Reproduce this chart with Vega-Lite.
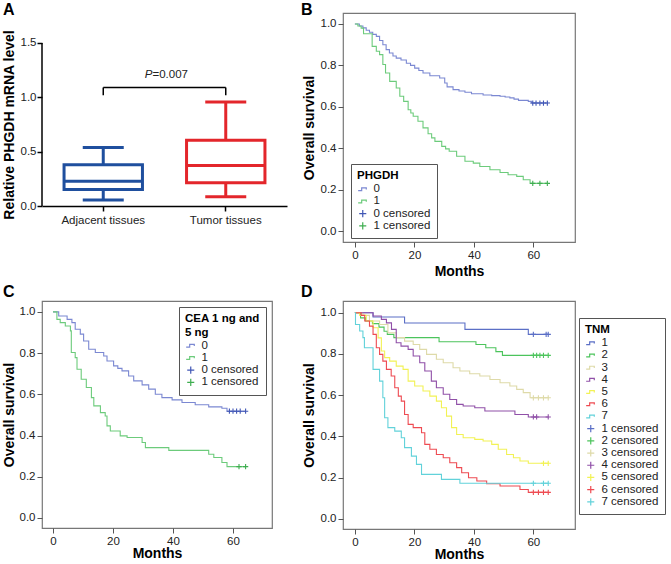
{
  "$schema": "https://vega.github.io/schema/vega-lite/v6.json",
  "padding": {"left": 1, "top": 0, "right": 0, "bottom": 0},
  "config": {
    "font": "Liberation Sans",
    "view": {"stroke": "#777", "strokeWidth": 1.2},
    "axis": {"labelFontSize": 11.5, "labelColor": "#222", "titleFontSize": 14, "titleFontWeight": "bold", "titleColor": "#000", "tickColor": "#555", "tickSize": 5, "labelPadding": 2, "titlePadding": 4, "domain": false, "grid": false},
    "legend": {"labelFontSize": 11.5, "titleFontSize": 11.5, "titleFontWeight": "bold", "strokeColor": "#555", "padding": 6, "fillColor": "white", "rowPadding": -0.8, "symbolStrokeWidth": 1.2, "symbolSize": 50, "titlePadding": 2, "labelColor": "#222", "titleColor": "#000", "symbolFillColor": "transparent", "labelOffset": 5},
    "title": {"fontSize": 16, "fontWeight": "bold", "anchor": "start", "color": "#000", "frame": "group"}
  },
  "datasets": {
    "boxes": [
      {"tissue": "Adjacent tissues", "min": 0.055, "q1": 0.151, "median": 0.228, "q3": 0.379, "max": 0.539},
      {"tissue": "Tumor tissues", "min": 0.086, "q1": 0.213, "median": 0.373, "q3": 0.604, "max": 0.958}
    ],
    "bracket": [{"from": "Adjacent tissues", "to": "Tumor tissues", "level": 1.09}],
    "legs": [
      {"tissue": "Adjacent tissues", "lo": 1.02, "hi": 1.09},
      {"tissue": "Tumor tissues", "lo": 1.02, "hi": 1.09}
    ],
    "bCurve": [
      {"label": "0", "month": 0, "surv": 1}, {"label": "0", "month": 1.5, "surv": 0.99}, {"label": "0", "month": 2.7, "surv": 0.981}, {"label": "0", "month": 3.8, "surv": 0.97}, {"label": "0", "month": 4.9, "surv": 0.96}, {"label": "0", "month": 6, "surv": 0.95}, {"label": "0", "month": 7.2, "surv": 0.94}, {"label": "0", "month": 8.3, "surv": 0.92}, {"label": "0", "month": 9.4, "surv": 0.9}, {"label": "0", "month": 10.5, "surv": 0.876}, {"label": "0", "month": 11.6, "surv": 0.86}, {"label": "0", "month": 12.8, "surv": 0.845}, {"label": "0", "month": 13.9, "surv": 0.835}, {"label": "0", "month": 15.5, "surv": 0.826}, {"label": "0", "month": 17.3, "surv": 0.81}, {"label": "0", "month": 18.7, "surv": 0.8}, {"label": "0", "month": 20.1, "surv": 0.787}, {"label": "0", "month": 21.5, "surv": 0.775}, {"label": "0", "month": 22.9, "surv": 0.763}, {"label": "0", "month": 25.2, "surv": 0.75}, {"label": "0", "month": 28.5, "surv": 0.739}, {"label": "0", "month": 30.2, "surv": 0.715}, {"label": "0", "month": 31, "surv": 0.696}, {"label": "0", "month": 33, "surv": 0.683}, {"label": "0", "month": 35, "surv": 0.676}, {"label": "0", "month": 37, "surv": 0.67}, {"label": "0", "month": 39.2, "surv": 0.663}, {"label": "0", "month": 43.1, "surv": 0.657}, {"label": "0", "month": 46, "surv": 0.654}, {"label": "0", "month": 48.8, "surv": 0.651}, {"label": "0", "month": 50.5, "surv": 0.647}, {"label": "0", "month": 52.1, "surv": 0.643}, {"label": "0", "month": 53.5, "surv": 0.637}, {"label": "0", "month": 55, "surv": 0.631}, {"label": "0", "month": 58.3, "surv": 0.626}, {"label": "0", "month": 59.4, "surv": 0.618}, {"label": "0", "month": 64.7, "surv": 0.618},
      {"label": "1", "month": 0, "surv": 1}, {"label": "1", "month": 1, "surv": 0.99}, {"label": "1", "month": 2.1, "surv": 0.98}, {"label": "1", "month": 2.9, "surv": 0.953}, {"label": "1", "month": 5.8, "surv": 0.892}, {"label": "1", "month": 7.2, "surv": 0.868}, {"label": "1", "month": 8.3, "surv": 0.852}, {"label": "1", "month": 9.4, "surv": 0.804}, {"label": "1", "month": 10.3, "surv": 0.763}, {"label": "1", "month": 11.7, "surv": 0.723}, {"label": "1", "month": 13.9, "surv": 0.691}, {"label": "1", "month": 15.1, "surv": 0.651}, {"label": "1", "month": 16.4, "surv": 0.626}, {"label": "1", "month": 17.9, "surv": 0.586}, {"label": "1", "month": 18.8, "surv": 0.57}, {"label": "1", "month": 19.6, "surv": 0.554}, {"label": "1", "month": 21.2, "surv": 0.53}, {"label": "1", "month": 22.9, "surv": 0.498}, {"label": "1", "month": 24.6, "surv": 0.47}, {"label": "1", "month": 25.8, "surv": 0.45}, {"label": "1", "month": 26.9, "surv": 0.433}, {"label": "1", "month": 29.2, "surv": 0.409}, {"label": "1", "month": 30.5, "surv": 0.397}, {"label": "1", "month": 31.7, "surv": 0.385}, {"label": "1", "month": 34.2, "surv": 0.361}, {"label": "1", "month": 37, "surv": 0.337}, {"label": "1", "month": 39.8, "surv": 0.328}, {"label": "1", "month": 42, "surv": 0.312}, {"label": "1", "month": 45.4, "surv": 0.296}, {"label": "1", "month": 48.8, "surv": 0.283}, {"label": "1", "month": 51.5, "surv": 0.272}, {"label": "1", "month": 54.4, "surv": 0.264}, {"label": "1", "month": 56.6, "surv": 0.248}, {"label": "1", "month": 58.9, "surv": 0.23}, {"label": "1", "month": 64.7, "surv": 0.23}
    ],
    "bCens": [
      {"label": "0 censored", "month": 59.8, "surv": 0.618}, {"label": "0 censored", "month": 60.9, "surv": 0.618}, {"label": "0 censored", "month": 62.2, "surv": 0.618}, {"label": "0 censored", "month": 63.4, "surv": 0.618}, {"label": "0 censored", "month": 64.7, "surv": 0.618},
      {"label": "1 censored", "month": 59.8, "surv": 0.23}, {"label": "1 censored", "month": 62.2, "surv": 0.23}, {"label": "1 censored", "month": 64.7, "surv": 0.23}
    ],
    "cCurve": [
      {"label": "0", "month": 0, "surv": 1}, {"label": "0", "month": 1.9, "surv": 0.98}, {"label": "0", "month": 4.7, "surv": 0.964}, {"label": "0", "month": 6.3, "surv": 0.948}, {"label": "0", "month": 7.4, "surv": 0.916}, {"label": "0", "month": 9.1, "surv": 0.892}, {"label": "0", "month": 10.2, "surv": 0.859}, {"label": "0", "month": 11.9, "surv": 0.819}, {"label": "0", "month": 14.1, "surv": 0.803}, {"label": "0", "month": 16.9, "surv": 0.786}, {"label": "0", "month": 18, "surv": 0.762}, {"label": "0", "month": 20.2, "surv": 0.738}, {"label": "0", "month": 21.6, "surv": 0.726}, {"label": "0", "month": 23, "surv": 0.714}, {"label": "0", "month": 25.2, "surv": 0.689}, {"label": "0", "month": 26.9, "surv": 0.665}, {"label": "0", "month": 29.7, "surv": 0.646}, {"label": "0", "month": 31.9, "surv": 0.625}, {"label": "0", "month": 34.1, "surv": 0.6}, {"label": "0", "month": 36.3, "surv": 0.584}, {"label": "0", "month": 39.7, "surv": 0.573}, {"label": "0", "month": 43, "surv": 0.56}, {"label": "0", "month": 47.4, "surv": 0.549}, {"label": "0", "month": 51.9, "surv": 0.539}, {"label": "0", "month": 56.3, "surv": 0.532}, {"label": "0", "month": 58, "surv": 0.518}, {"label": "0", "month": 64.2, "surv": 0.518},
      {"label": "1", "month": 0, "surv": 1}, {"label": "1", "month": 1.3, "surv": 0.964}, {"label": "1", "month": 2.4, "surv": 0.948}, {"label": "1", "month": 4.1, "surv": 0.932}, {"label": "1", "month": 5.8, "surv": 0.908}, {"label": "1", "month": 6.1, "surv": 0.803}, {"label": "1", "month": 7.4, "surv": 0.778}, {"label": "1", "month": 8, "surv": 0.722}, {"label": "1", "month": 9.4, "surv": 0.673}, {"label": "1", "month": 11.1, "surv": 0.633}, {"label": "1", "month": 12.8, "surv": 0.584}, {"label": "1", "month": 13.6, "surv": 0.544}, {"label": "1", "month": 15.8, "surv": 0.511}, {"label": "1", "month": 17.4, "surv": 0.495}, {"label": "1", "month": 18, "surv": 0.447}, {"label": "1", "month": 19.1, "surv": 0.422}, {"label": "1", "month": 22.4, "surv": 0.398}, {"label": "1", "month": 24.7, "surv": 0.39}, {"label": "1", "month": 29.7, "surv": 0.366}, {"label": "1", "month": 30.8, "surv": 0.341}, {"label": "1", "month": 38.6, "surv": 0.328}, {"label": "1", "month": 51.9, "surv": 0.309}, {"label": "1", "month": 53.6, "surv": 0.293}, {"label": "1", "month": 56.3, "surv": 0.269}, {"label": "1", "month": 58, "surv": 0.249}, {"label": "1", "month": 64.2, "surv": 0.249}
    ],
    "cCens": [
      {"label": "0 censored", "month": 58.8, "surv": 0.518}, {"label": "0 censored", "month": 60, "surv": 0.518}, {"label": "0 censored", "month": 61.2, "surv": 0.518}, {"label": "0 censored", "month": 62.4, "surv": 0.518}, {"label": "0 censored", "month": 64.2, "surv": 0.518},
      {"label": "1 censored", "month": 62, "surv": 0.249}, {"label": "1 censored", "month": 64.2, "surv": 0.249}
    ],
    "dCurve": [
      {"label": "1", "month": 0, "surv": 1}, {"label": "1", "month": 6.1, "surv": 0.979}, {"label": "1", "month": 16.7, "surv": 0.95}, {"label": "1", "month": 37, "surv": 0.919}, {"label": "1", "month": 58.3, "surv": 0.895}, {"label": "1", "month": 65, "surv": 0.895},
      {"label": "2", "month": 0, "surv": 1}, {"label": "2", "month": 1.9, "surv": 0.975}, {"label": "2", "month": 3.6, "surv": 0.96}, {"label": "2", "month": 5.9, "surv": 0.947}, {"label": "2", "month": 8.1, "surv": 0.93}, {"label": "2", "month": 9.8, "surv": 0.91}, {"label": "2", "month": 10.9, "surv": 0.895}, {"label": "2", "month": 13.1, "surv": 0.879}, {"label": "2", "month": 28.3, "surv": 0.859}, {"label": "2", "month": 40.7, "surv": 0.846}, {"label": "2", "month": 44, "surv": 0.83}, {"label": "2", "month": 47.4, "surv": 0.811}, {"label": "2", "month": 49.6, "surv": 0.793}, {"label": "2", "month": 65, "surv": 0.793},
      {"label": "3", "month": 0, "surv": 1}, {"label": "3", "month": 2.7, "surv": 0.987}, {"label": "3", "month": 4.9, "surv": 0.96}, {"label": "3", "month": 8.3, "surv": 0.943}, {"label": "3", "month": 11.1, "surv": 0.903}, {"label": "3", "month": 13.9, "surv": 0.879}, {"label": "3", "month": 16.7, "surv": 0.862}, {"label": "3", "month": 19.6, "surv": 0.846}, {"label": "3", "month": 21.8, "surv": 0.822}, {"label": "3", "month": 24.1, "surv": 0.798}, {"label": "3", "month": 27.4, "surv": 0.774}, {"label": "3", "month": 29.7, "surv": 0.757}, {"label": "3", "month": 33, "surv": 0.733}, {"label": "3", "month": 35.3, "surv": 0.717}, {"label": "3", "month": 38.6, "surv": 0.704}, {"label": "3", "month": 42, "surv": 0.693}, {"label": "3", "month": 45.4, "surv": 0.676}, {"label": "3", "month": 48.8, "surv": 0.66}, {"label": "3", "month": 52.1, "surv": 0.644}, {"label": "3", "month": 54.4, "surv": 0.628}, {"label": "3", "month": 56.6, "surv": 0.612}, {"label": "3", "month": 58.9, "surv": 0.587}, {"label": "3", "month": 65, "surv": 0.587},
      {"label": "4", "month": 0, "surv": 1}, {"label": "4", "month": 6.1, "surv": 0.984}, {"label": "4", "month": 8.9, "surv": 0.968}, {"label": "4", "month": 10.6, "surv": 0.951}, {"label": "4", "month": 12.3, "surv": 0.919}, {"label": "4", "month": 13.9, "surv": 0.854}, {"label": "4", "month": 15.5, "surv": 0.838}, {"label": "4", "month": 17.9, "surv": 0.822}, {"label": "4", "month": 19.6, "surv": 0.79}, {"label": "4", "month": 21.8, "surv": 0.757}, {"label": "4", "month": 23.5, "surv": 0.717}, {"label": "4", "month": 25.7, "surv": 0.668}, {"label": "4", "month": 27.4, "surv": 0.636}, {"label": "4", "month": 29.7, "surv": 0.604}, {"label": "4", "month": 31.9, "surv": 0.579}, {"label": "4", "month": 34.2, "surv": 0.555}, {"label": "4", "month": 36.4, "surv": 0.547}, {"label": "4", "month": 40.3, "surv": 0.539}, {"label": "4", "month": 43.7, "surv": 0.523}, {"label": "4", "month": 53.8, "surv": 0.506}, {"label": "4", "month": 58.3, "surv": 0.494}, {"label": "4", "month": 65, "surv": 0.494},
      {"label": "5", "month": 0, "surv": 1}, {"label": "5", "month": 1.6, "surv": 0.987}, {"label": "5", "month": 3.8, "surv": 0.96}, {"label": "5", "month": 6.1, "surv": 0.927}, {"label": "5", "month": 7.8, "surv": 0.878}, {"label": "5", "month": 8.9, "surv": 0.814}, {"label": "5", "month": 10, "surv": 0.782}, {"label": "5", "month": 11.7, "surv": 0.765}, {"label": "5", "month": 13.9, "surv": 0.741}, {"label": "5", "month": 16.2, "surv": 0.725}, {"label": "5", "month": 17.9, "surv": 0.668}, {"label": "5", "month": 20.1, "surv": 0.644}, {"label": "5", "month": 22.9, "surv": 0.62}, {"label": "5", "month": 25.2, "surv": 0.595}, {"label": "5", "month": 27.4, "surv": 0.571}, {"label": "5", "month": 29.1, "surv": 0.539}, {"label": "5", "month": 30.8, "surv": 0.498}, {"label": "5", "month": 32.5, "surv": 0.442}, {"label": "5", "month": 34.2, "surv": 0.409}, {"label": "5", "month": 36.4, "surv": 0.393}, {"label": "5", "month": 40.3, "surv": 0.385}, {"label": "5", "month": 43.1, "surv": 0.377}, {"label": "5", "month": 46, "surv": 0.361}, {"label": "5", "month": 48.2, "surv": 0.337}, {"label": "5", "month": 51, "surv": 0.312}, {"label": "5", "month": 53.3, "surv": 0.296}, {"label": "5", "month": 55.5, "surv": 0.28}, {"label": "5", "month": 58.3, "surv": 0.269}, {"label": "5", "month": 65, "surv": 0.269},
      {"label": "6", "month": 0, "surv": 1}, {"label": "6", "month": 2.1, "surv": 0.987}, {"label": "6", "month": 3.3, "surv": 0.96}, {"label": "6", "month": 4.9, "surv": 0.935}, {"label": "6", "month": 6.1, "surv": 0.895}, {"label": "6", "month": 7.2, "surv": 0.83}, {"label": "6", "month": 8.3, "surv": 0.798}, {"label": "6", "month": 9.4, "surv": 0.765}, {"label": "6", "month": 10.6, "surv": 0.725}, {"label": "6", "month": 12.2, "surv": 0.693}, {"label": "6", "month": 13.4, "surv": 0.636}, {"label": "6", "month": 14.6, "surv": 0.595}, {"label": "6", "month": 15.6, "surv": 0.571}, {"label": "6", "month": 16.7, "surv": 0.506}, {"label": "6", "month": 17.9, "surv": 0.458}, {"label": "6", "month": 19.6, "surv": 0.442}, {"label": "6", "month": 22.4, "surv": 0.417}, {"label": "6", "month": 23.5, "surv": 0.361}, {"label": "6", "month": 25.2, "surv": 0.337}, {"label": "6", "month": 27.4, "surv": 0.312}, {"label": "6", "month": 29.7, "surv": 0.296}, {"label": "6", "month": 31.9, "surv": 0.272}, {"label": "6", "month": 34.2, "surv": 0.248}, {"label": "6", "month": 35.9, "surv": 0.223}, {"label": "6", "month": 38.2, "surv": 0.199}, {"label": "6", "month": 41, "surv": 0.183}, {"label": "6", "month": 44.3, "surv": 0.17}, {"label": "6", "month": 48.8, "surv": 0.159}, {"label": "6", "month": 55.5, "surv": 0.142}, {"label": "6", "month": 58.3, "surv": 0.128}, {"label": "6", "month": 65, "surv": 0.128},
      {"label": "7", "month": 0, "surv": 1}, {"label": "7", "month": 0.2, "surv": 0.943}, {"label": "7", "month": 1.6, "surv": 0.911}, {"label": "7", "month": 2.7, "surv": 0.879}, {"label": "7", "month": 3.2, "surv": 0.83}, {"label": "7", "month": 6.1, "surv": 0.725}, {"label": "7", "month": 8.3, "surv": 0.668}, {"label": "7", "month": 9.4, "surv": 0.587}, {"label": "7", "month": 10, "surv": 0.49}, {"label": "7", "month": 11.1, "surv": 0.442}, {"label": "7", "month": 13.4, "surv": 0.425}, {"label": "7", "month": 15.6, "surv": 0.393}, {"label": "7", "month": 16.7, "surv": 0.345}, {"label": "7", "month": 19, "surv": 0.304}, {"label": "7", "month": 20.7, "surv": 0.264}, {"label": "7", "month": 22.4, "surv": 0.215}, {"label": "7", "month": 29.1, "surv": 0.191}, {"label": "7", "month": 35.3, "surv": 0.172}, {"label": "7", "month": 65, "surv": 0.172}
    ],
    "dCens": [
      {"label": "1 censored", "month": 60, "surv": 0.895}, {"label": "1 censored", "month": 64.3, "surv": 0.895}, {"label": "1 censored", "month": 65, "surv": 0.895},
      {"label": "2 censored", "month": 60, "surv": 0.793}, {"label": "2 censored", "month": 61.1, "surv": 0.793}, {"label": "2 censored", "month": 62.2, "surv": 0.793}, {"label": "2 censored", "month": 63.4, "surv": 0.793}, {"label": "2 censored", "month": 65, "surv": 0.793},
      {"label": "3 censored", "month": 60, "surv": 0.587}, {"label": "3 censored", "month": 61.7, "surv": 0.587}, {"label": "3 censored", "month": 63.4, "surv": 0.587}, {"label": "3 censored", "month": 65, "surv": 0.587},
      {"label": "4 censored", "month": 60, "surv": 0.494}, {"label": "4 censored", "month": 61.1, "surv": 0.494}, {"label": "4 censored", "month": 65, "surv": 0.494},
      {"label": "5 censored", "month": 63.4, "surv": 0.269}, {"label": "5 censored", "month": 65, "surv": 0.269},
      {"label": "6 censored", "month": 60, "surv": 0.128}, {"label": "6 censored", "month": 61.7, "surv": 0.128}, {"label": "6 censored", "month": 63.4, "surv": 0.128}, {"label": "6 censored", "month": 65, "surv": 0.128},
      {"label": "7 censored", "month": 60, "surv": 0.172}, {"label": "7 censored", "month": 63.4, "surv": 0.172}, {"label": "7 censored", "month": 65, "surv": 0.172}
    ]
  },
  "spacing": 3,
  "resolve": {"scale": {"color": "independent", "shape": "independent", "stroke": "independent", "x": "independent", "y": "independent"}, "legend": {"color": "independent", "shape": "independent", "stroke": "independent"}},
  "vconcat": [
    {
      "spacing": 13,
      "resolve": {"scale": {"color": "independent", "shape": "independent", "stroke": "independent", "x": "independent", "y": "independent"}, "legend": {"color": "independent", "shape": "independent", "stroke": "independent"}},
      "hconcat": [
        {
          "width": 245, "height": 193,
          "title": {"text": "A", "dx": -39, "offset": -4.5},
          "view": {"stroke": null},
          "resolve": {"scale": {"x": "independent"}},
          "layer": [
            {
              "encoding": {
                "x": {"field": "tissue", "type": "nominal", "scale": {"type": "band", "paddingInner": 0.36, "paddingOuter": 0.18}, "axis": {"title": null, "domain": true, "domainColor": "#000", "domainWidth": 1.5, "tickColor": "#000", "tickWidth": 1.5, "labelAngle": 0, "labelPadding": 3}},
                "color": {"field": "tissue", "type": "nominal", "scale": {"domain": ["Adjacent tissues", "Tumor tissues"], "range": ["#1f4f9e", "#e3262b"]}, "legend": null}
              },
              "layer": [
                {"data": {"name": "boxes"}, "mark": {"type": "rule", "strokeWidth": 3},
                 "encoding": {"y": {"field": "q3", "type": "quantitative", "scale": {"domain": [0, 1.776], "nice": false}, "axis": {"values": [0, 0.5, 1, 1.5], "format": ".1f", "title": "Relative PHGDH mRNA level", "titleY": 111.5, "tickColor": "#000", "tickWidth": 1.5, "labelPadding": 1}}, "y2": {"field": "max"}}},
                {"data": {"name": "boxes"}, "mark": {"type": "rule", "strokeWidth": 3},
                 "encoding": {"y": {"field": "min", "type": "quantitative"}, "y2": {"field": "q1"}}},
                {"data": {"name": "boxes"}, "mark": {"type": "bar", "strokeWidth": 3},
                 "encoding": {"y": {"field": "q1", "type": "quantitative"}, "y2": {"field": "q3"}, "color": {"value": "white"}, "stroke": {"field": "tissue", "type": "nominal", "scale": {"domain": ["Adjacent tissues", "Tumor tissues"], "range": ["#1f4f9e", "#e3262b"]}, "legend": null}}},
                {"data": {"name": "boxes"}, "mark": {"type": "tick", "thickness": 3, "size": 78, "opacity": 1},
                 "encoding": {"y": {"field": "median", "type": "quantitative"}}},
                {"data": {"name": "boxes"}, "mark": {"type": "tick", "thickness": 3, "size": 41, "opacity": 1},
                 "encoding": {"y": {"field": "max", "type": "quantitative"}}},
                {"data": {"name": "boxes"}, "mark": {"type": "tick", "thickness": 3, "size": 41, "opacity": 1},
                 "encoding": {"y": {"field": "min", "type": "quantitative"}}},
                {"data": {"name": "bracket"}, "mark": {"type": "rule", "strokeWidth": 1.5},
                 "encoding": {"x": {"field": "from", "type": "nominal"}, "x2": {"field": "to"}, "y": {"field": "level", "type": "quantitative"}, "color": {"value": "#000"}}},
                {"data": {"name": "legs"}, "mark": {"type": "rule", "strokeWidth": 1.5},
                 "encoding": {"y": {"field": "lo", "type": "quantitative"}, "y2": {"field": "hi"}, "color": {"value": "#000"}}}
              ]
            },
            {
              "data": {"values": [{"p": "P", "rest": "=0.007"}]},
              "encoding": {
                "x": {"datum": 0.5, "type": "quantitative", "scale": {"domain": [0, 1]}, "axis": null}
              },
              "layer": [
                {"mark": {"type": "rule", "strokeWidth": 1.5, "color": "#000"}, "encoding": {"x": {"datum": 0, "type": "quantitative"}, "y": {"datum": 0, "type": "quantitative"}, "y2": {"datum": 1.5}}},
                {"mark": {"type": "text", "align": "right", "dx": -12, "fontSize": 11.5, "fontStyle": "italic", "color": "#222", "baseline": "middle"}, "encoding": {"y": {"datum": 1.205, "type": "quantitative"}, "text": {"field": "p"}}},
                {"mark": {"type": "text", "align": "left", "dx": -12, "fontSize": 11.5, "color": "#222", "baseline": "middle"}, "encoding": {"y": {"datum": 1.205, "type": "quantitative"}, "text": {"field": "rest"}}}
              ]
            }
          ]
        },
        {
          "width": 232, "height": 229,
          "title": {"text": "B", "dx": -42, "offset": -4.5},
          "layer": [
            {"data": {"name": "bCurve"}, "mark": {"type": "line", "interpolate": "step-after", "strokeWidth": 1.1},
             "encoding": {
               "x": {"field": "month", "type": "quantitative", "scale": {"domain": [-4, 74], "nice": false, "zero": false}, "axis": {"values": [0, 20, 40, 60], "title": "Months"}},
               "y": {"field": "surv", "type": "quantitative", "scale": {"domain": [-0.053, 1.053], "nice": false, "zero": false}, "axis": {"values": [0, 0.2, 0.4, 0.6, 0.8, 1], "format": ".1f", "title": "Overall survival"}},
               "color": {"field": "label", "type": "nominal", "scale": {"domain": ["0", "1", "0 censored", "1 censored"], "range": ["#7b88d2", "#6ccb7b", "#4157b5", "#3fae50"]}, "legend": {"title": "PHGDH", "orient": "none", "legendX": 8, "legendY": 151}}
             }},
            {"data": {"name": "bCens"}, "mark": {"type": "point", "filled": false, "strokeWidth": 1.1, "size": 28, "opacity": 1},
             "encoding": {
               "x": {"field": "month", "type": "quantitative"},
               "y": {"field": "surv", "type": "quantitative"},
               "color": {"field": "label", "type": "nominal"},
               "shape": {"field": "label", "type": "nominal", "scale": {"domain": ["0", "1", "0 censored", "1 censored"], "range": ["M-1.3,0.4H-0.3V-0.4H1V0.1", "M-1.3,0.4H-0.3V-0.4H1V0.1", "M-1,0H1M0,-1V1", "M-1,0H1M0,-1V1"]}, "legend": {"title": "PHGDH", "orient": "none", "legendX": 8, "legendY": 151}}
             }}
          ]
        }
      ]
    },
    {
      "spacing": 27,
      "resolve": {"scale": {"color": "independent", "shape": "independent", "stroke": "independent", "x": "independent", "y": "independent"}, "legend": {"color": "independent", "shape": "independent", "stroke": "independent"}},
      "hconcat": [
        {
          "width": 230, "height": 227,
          "title": {"text": "C", "dx": -39, "offset": 1},
          "layer": [
            {"data": {"name": "cCurve"}, "mark": {"type": "line", "interpolate": "step-after", "strokeWidth": 1.1},
             "encoding": {
               "x": {"field": "month", "type": "quantitative", "scale": {"domain": [-3.67, 73], "nice": false, "zero": false}, "axis": {"values": [0, 20, 40, 60], "title": "Months", "titlePadding": 0}},
               "y": {"field": "surv", "type": "quantitative", "scale": {"domain": [-0.049, 1.053], "nice": false, "zero": false}, "axis": {"values": [0, 0.2, 0.4, 0.6, 0.8, 1], "format": ".1f", "title": "Overall survival", "titlePadding": 3}},
               "color": {"field": "label", "type": "nominal", "scale": {"domain": ["0", "1", "0 censored", "1 censored"], "range": ["#7b88d2", "#6ccb7b", "#4157b5", "#3fae50"]}, "legend": {"title": ["CEA 1 ng and", "5 ng"], "orient": "top-right", "offset": 6}}
             }},
            {"data": {"name": "cCens"}, "mark": {"type": "point", "filled": false, "strokeWidth": 1.1, "size": 28, "opacity": 1},
             "encoding": {
               "x": {"field": "month", "type": "quantitative"},
               "y": {"field": "surv", "type": "quantitative"},
               "color": {"field": "label", "type": "nominal"},
               "shape": {"field": "label", "type": "nominal", "scale": {"domain": ["0", "1", "0 censored", "1 censored"], "range": ["M-1.3,0.4H-0.3V-0.4H1V0.1", "M-1.3,0.4H-0.3V-0.4H1V0.1", "M-1,0H1M0,-1V1", "M-1,0H1M0,-1V1"]}, "legend": {"title": ["CEA 1 ng and", "5 ng"], "orient": "top-right", "offset": 6}}
             }}
          ]
        },
        {
          "width": 232, "height": 228,
          "title": {"text": "D", "dx": -42, "offset": 1},
          "layer": [
            {"data": {"name": "dCurve"}, "mark": {"type": "line", "interpolate": "step-after", "strokeWidth": 1.1},
             "encoding": {
               "x": {"field": "month", "type": "quantitative", "scale": {"domain": [-4, 74], "nice": false, "zero": false}, "axis": {"values": [0, 20, 40, 60], "title": "Months", "titlePadding": 0}},
               "y": {"field": "surv", "type": "quantitative", "scale": {"domain": [-0.05, 1.057], "nice": false, "zero": false}, "axis": {"values": [0, 0.2, 0.4, 0.6, 0.8, 1], "format": ".1f", "title": "Overall survival"}},
               "color": {"field": "label", "type": "nominal", "scale": {"domain": ["1", "2", "3", "4", "5", "6", "7", "1 censored", "2 censored", "3 censored", "4 censored", "5 censored", "6 censored", "7 censored"], "range": ["#5b6fc6", "#4cc45c", "#dedaa8", "#9050a8", "#f2f255", "#ee4b52", "#62d2da", "#5b6fc6", "#4cc45c", "#dedaa8", "#9050a8", "#f2f255", "#ee4b52", "#62d2da"]}, "legend": {"title": "TNM", "orient": "none", "legendX": 236, "legendY": 17}}
             }},
            {"data": {"name": "dCens"}, "mark": {"type": "point", "filled": false, "strokeWidth": 1.1, "size": 28, "opacity": 1},
             "encoding": {
               "x": {"field": "month", "type": "quantitative"},
               "y": {"field": "surv", "type": "quantitative"},
               "color": {"field": "label", "type": "nominal"},
               "shape": {"field": "label", "type": "nominal", "scale": {"domain": ["1", "2", "3", "4", "5", "6", "7", "1 censored", "2 censored", "3 censored", "4 censored", "5 censored", "6 censored", "7 censored"], "range": ["M-1.3,0.4H-0.3V-0.4H1V0.1", "M-1.3,0.4H-0.3V-0.4H1V0.1", "M-1.3,0.4H-0.3V-0.4H1V0.1", "M-1.3,0.4H-0.3V-0.4H1V0.1", "M-1.3,0.4H-0.3V-0.4H1V0.1", "M-1.3,0.4H-0.3V-0.4H1V0.1", "M-1.3,0.4H-0.3V-0.4H1V0.1", "M-1,0H1M0,-1V1", "M-1,0H1M0,-1V1", "M-1,0H1M0,-1V1", "M-1,0H1M0,-1V1", "M-1,0H1M0,-1V1", "M-1,0H1M0,-1V1", "M-1,0H1M0,-1V1"]}, "legend": {"title": "TNM", "orient": "none", "legendX": 236, "legendY": 17}}
             }}
          ]
        }
      ]
    }
  ]
}
